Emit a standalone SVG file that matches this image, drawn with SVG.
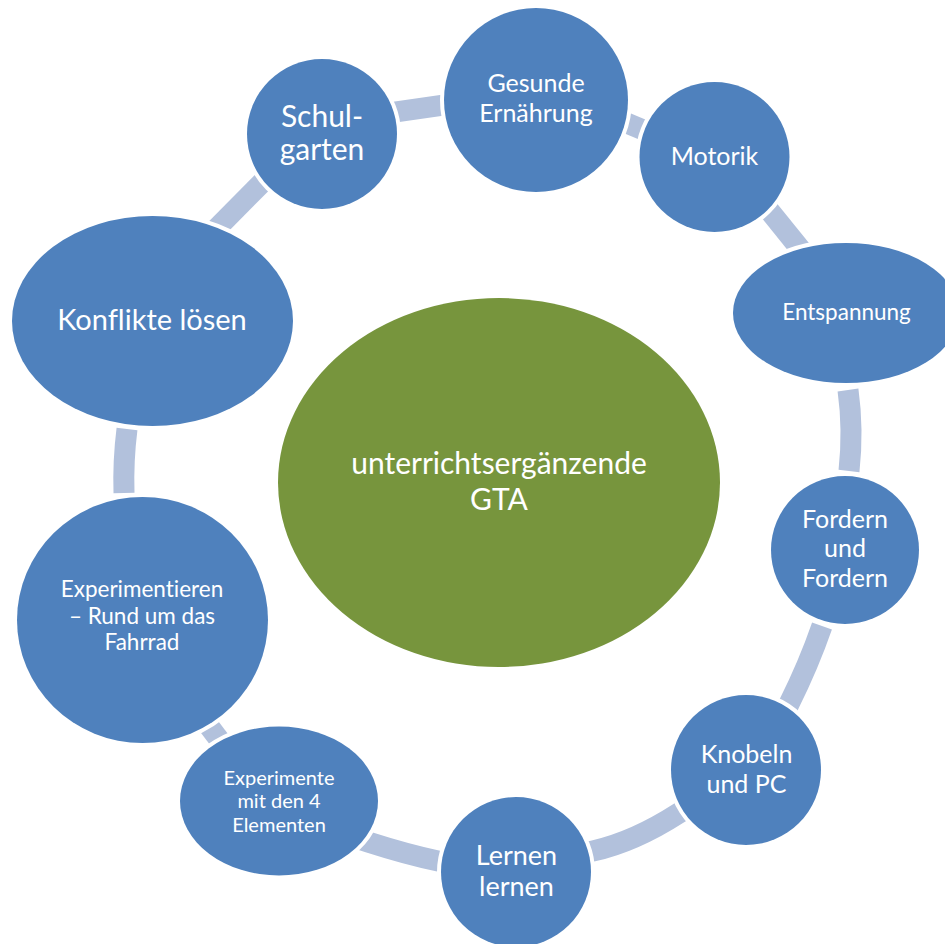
<svg xmlns="http://www.w3.org/2000/svg" width="945" height="944" viewBox="0 0 945 944">
<style>
.bg{fill:#ffffff}
.conn{fill:none;stroke:#b2c1dc;stroke-width:21;stroke-linecap:butt}
.node{fill:#4f81bd;stroke:#ffffff;stroke-width:8;paint-order:stroke}
.center{fill:#77953d}
.t{fill:#ffffff;font-family:Lato,"Open Sans","Liberation Sans",sans-serif;text-anchor:middle;font-variant-ligatures:none}
</style>
<rect class="bg" x="0" y="0" width="945" height="944"/>
<ellipse id="center-shape" class="center" cx="499" cy="482.5" rx="221" ry="184.5"/>
<g id="connectors">
<path class="conn" d="M391,112.6 L448.4,104.4"/>
<path class="conn" d="M621.6,120.9 L648.4,132.1"/>
<path class="conn" d="M767,207.8 L802,251.2"/>
<path class="conn" d="M848,390 Q853.5,429.5 849,471"/>
<path class="conn" d="M822,626 Q808.5,665 789,704 L786,711"/>
<path class="conn" d="M687,808 L679,813 Q634,842 593,851 L583,853"/>
<path class="conn" d="M446,862.6 L438,861 Q407,854.5 368,842 L360.4,839.6"/>
<path class="conn" d="M202,717 L224,746"/>
<path class="conn" d="M127,429 Q123,461 124,493"/>
<path class="conn" d="M267,177.5 L214.5,230.6"/>
</g>
<g id="node-center">
<text class="t" x="499" y="474" font-size="30">unterrichtsergänzende</text>
<text class="t" x="499" y="510" font-size="30">GTA</text>
</g>
<g id="node-gesunde">
<circle class="node" cx="536" cy="100" r="92"/>
<text class="t" x="536" y="92" font-size="25">Gesunde</text>
<text class="t" x="536" y="122" font-size="25">Ernährung</text>
</g>
<g id="node-motorik">
<circle class="node" cx="714.5" cy="157" r="75"/>
<text class="t" x="714.5" y="165" font-size="25">Motorik</text>
</g>
<g id="node-entspannung">
<ellipse class="node" cx="846" cy="313" rx="113" ry="70"/>
<text class="t" x="846.5" y="320" font-size="22.5">Entspannung</text>
</g>
<g id="node-fordern">
<circle class="node" cx="845" cy="550" r="74"/>
<text class="t" x="845" y="528" font-size="25">Fordern</text>
<text class="t" x="845" y="557" font-size="25">und</text>
<text class="t" x="845" y="587" font-size="25">Fordern</text>
</g>
<g id="node-knobeln">
<circle class="node" cx="746" cy="770" r="75"/>
<text class="t" x="746.5" y="763" font-size="25">Knobeln</text>
<text class="t" x="746.5" y="793" font-size="25">und PC</text>
</g>
<g id="node-lernen">
<circle class="node" cx="516" cy="872" r="75"/>
<text class="t" x="516.5" y="865" font-size="27">Lernen</text>
<text class="t" x="516.5" y="896" font-size="27">lernen</text>
</g>
<g id="node-experimente">
<ellipse class="node" cx="279" cy="801" rx="99" ry="74.5"/>
<text class="t" x="279" y="785" font-size="20">Experimente</text>
<text class="t" x="279" y="808" font-size="20">mit den 4</text>
<text class="t" x="279" y="832" font-size="20">Elementen</text>
</g>
<g id="node-experimentieren">
<ellipse class="node" cx="142.5" cy="620" rx="125.5" ry="123"/>
<text class="t" x="142" y="597" font-size="22.5">Experimentieren</text>
<text class="t" x="142" y="624" font-size="22.5">– Rund um das</text>
<text class="t" x="142" y="650" font-size="22.5">Fahrrad</text>
</g>
<g id="node-konflikte">
<ellipse class="node" cx="152.5" cy="321" rx="140.5" ry="105"/>
<text class="t" x="152" y="330" font-size="29">Konflikte lösen</text>
</g>
<g id="node-schulgarten">
<circle class="node" cx="322" cy="134" r="75"/>
<text class="t" x="322" y="127" font-size="30">Schul-</text>
<text class="t" x="322" y="160" font-size="30">garten</text>
</g>
</svg>
